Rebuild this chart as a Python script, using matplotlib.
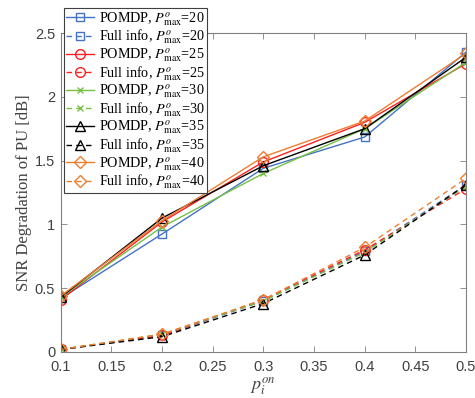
import numpy as np
import matplotlib
matplotlib.use("Agg")
import matplotlib.pyplot as plt

# p_i^on values on the x axis
p_on = [0.1, 0.2, 0.3, 0.4, 0.5]
p_max = [20, 25, 30, 35, 40]

# SNR degradation [dB], POMDP policy
pomdp_20 = [0.42, 0.925, 1.44, 1.685, 2.35]
pomdp_25 = [0.41, 1.02, 1.49, 1.80, 2.26]
pomdp_30 = [0.43, 0.98, 1.40, 1.75, 2.27]
pomdp_35 = [0.43, 1.05, 1.46, 1.75, 2.31]
pomdp_40 = [0.44, 1.03, 1.53, 1.81, 2.34]

# SNR degradation [dB], full information
full_20 = [0.02, 0.13, 0.40, 0.79, 1.31]
full_25 = [0.02, 0.13, 0.41, 0.80, 1.28]
full_30 = [0.02, 0.14, 0.40, 0.78, 1.30]
full_35 = [0.02, 0.12, 0.38, 0.76, 1.31]
full_40 = [0.02, 0.14, 0.41, 0.82, 1.36]

pomdp = [pomdp_20, pomdp_25, pomdp_30, pomdp_35, pomdp_40]
full = [full_20, full_25, full_30, full_35, full_40]
colors = ["#4472C4", "#FF2020", "#77C043", "#000000", "#ED7D31"]
markers = ["s", "o", "x", "^", "D"]
msizes = [6, 7, 5, 7, 6]

plt.rcParams["mathtext.fontset"] = "stix"
plt.rcParams["font.family"] = "Liberation Sans"

fig = plt.figure(figsize=(4.75, 3.98), dpi=100)
ax = fig.add_axes([0.128, 0.1156, 0.853, 0.8014])

for k in range(5):
    ax.plot(p_on, pomdp[k], "-", color=colors[k], marker=markers[k], ms=msizes[k],
            mfc="none", mew=1.0, lw=1.0,
            label=rf"POMDP, $P^{{o}}_{{\max}}$={p_max[k]}")
    ax.plot(p_on, full[k], "--", color=colors[k], marker=markers[k], ms=msizes[k],
            mfc="none", mew=1.0, lw=1.0, dashes=(4, 3),
            label=rf"Full info, $P^{{o}}_{{\max}}$={p_max[k]}")

ax.set_xlim(0.1, 0.5)
ax.set_ylim(0, 2.5)
ax.set_xticks(np.arange(0.1, 0.501, 0.05))
ax.set_xticklabels(["0.1", "0.15", "0.2", "0.25", "0.3", "0.35", "0.4", "0.45", "0.5"])
ax.set_yticks([0, 0.5, 1, 1.5, 2, 2.5])
ax.set_yticklabels(["0", "0.5", "1", "1.5", "2", "2.5"])

axcol = "#404040"
for s in ax.spines.values():
    s.set_color("#808080")
    s.set_linewidth(0.8)
ax.tick_params(direction="in", length=4, width=0.6, colors="#808080",
               labelcolor=axcol, labelsize=10.5, top=True, right=True)
ax.tick_params(axis="x", pad=6)
ax.tick_params(axis="y", pad=4)

ax.set_xlabel(r"$p_i^{on}$", fontsize=13, color=axcol, labelpad=1)
ax.set_ylabel("SNR Degradation of PU [dB]", fontsize=12, color=axcol,
              family="Liberation Serif", labelpad=2)

leg = ax.legend(loc="upper left", bbox_to_anchor=(0.008, 1.078), ncol=1,
                prop={"family": "Liberation Serif", "size": 10.2},
                handlelength=2.0, handletextpad=0.3, labelspacing=0.0,
                borderpad=0.15, borderaxespad=0.0, fancybox=False,
                framealpha=1.0, edgecolor="#404040")
leg.get_frame().set_linewidth(0.8)

fig.savefig("out.png", dpi=100)
